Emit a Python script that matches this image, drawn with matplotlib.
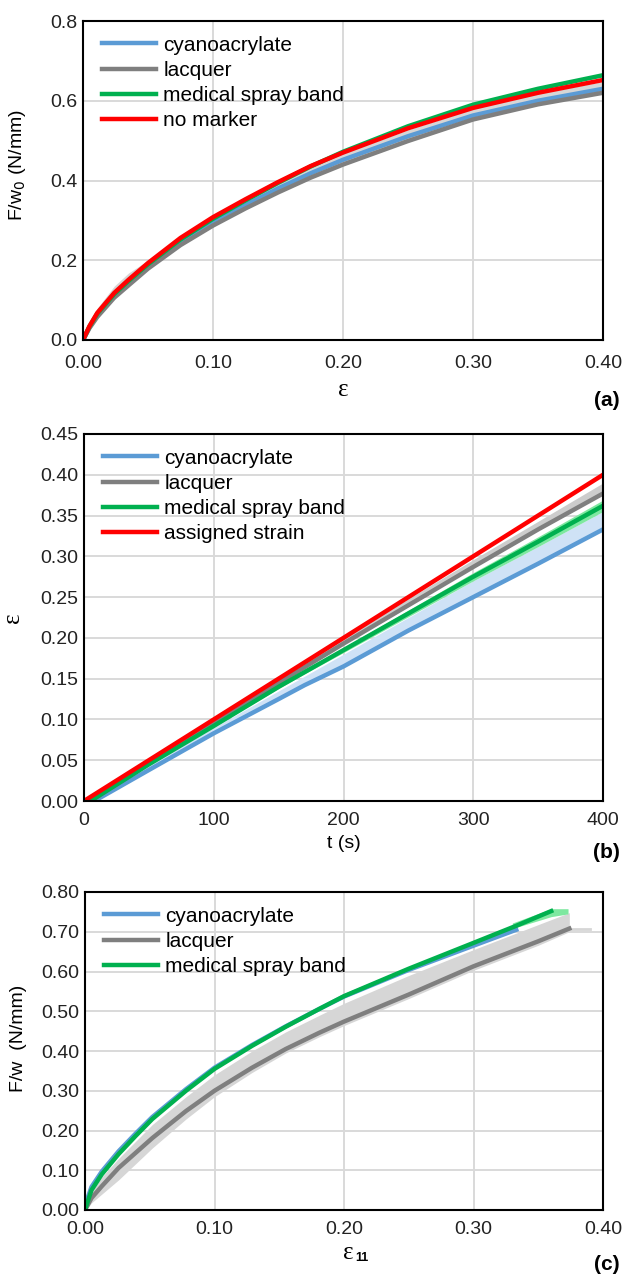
import matplotlib.pyplot as plt

plt.rcParams['font.family'] = ['Liberation Sans', 'DejaVu Sans']

# ---- panel (a): F/w0 versus strain
eps_a = [0.0, 0.005, 0.011, 0.024, 0.035, 0.05, 0.075, 0.10, 0.125, 0.15, 0.175, 0.20,
         0.25, 0.30, 0.35, 0.40]
cyano_a = [0.0, 0.032, 0.062, 0.110, 0.141, 0.184, 0.244, 0.294, 0.338, 0.380, 0.418, 0.452,
           0.511, 0.563, 0.600, 0.630]
lacq_a = [0.0, 0.030, 0.058, 0.106, 0.137, 0.179, 0.238, 0.287, 0.330, 0.370, 0.407, 0.440,
          0.499, 0.553, 0.591, 0.620]
lacq_a_up = [0.0, 0.045, 0.080, 0.135, 0.168, 0.200, 0.258, 0.308, 0.352, 0.394, 0.433, 0.468,
             0.527, 0.580, 0.618, 0.648]
spray_a = [0.0, 0.034, 0.066, 0.115, 0.148, 0.190, 0.252, 0.304, 0.350, 0.394, 0.435, 0.472,
           0.536, 0.590, 0.630, 0.664]
nomark_a = [0.0, 0.035, 0.068, 0.118, 0.151, 0.193, 0.256, 0.308, 0.353, 0.396, 0.436, 0.470,
            0.531, 0.582, 0.620, 0.652]

# ---- panel (b): strain versus time
t_b = [0, 8, 50, 100, 150, 170, 200, 250, 300, 350, 400]
cyano_b = [0.0, 0.0, 0.038, 0.083, 0.125, 0.142, 0.165, 0.209, 0.250, 0.291, 0.333]
cyano_b_up = [0.0, 0.004, 0.045, 0.090, 0.135, 0.153, 0.180, 0.225, 0.270, 0.312, 0.355]
lacq_b = [0.0, 0.003, 0.046, 0.095, 0.145, 0.164, 0.193, 0.240, 0.287, 0.333, 0.377]
lacq_b_up = [0.0, 0.005, 0.048, 0.098, 0.150, 0.170, 0.200, 0.248, 0.296, 0.343, 0.390]
spray_b = [0.0, 0.003, 0.045, 0.092, 0.140, 0.158, 0.185, 0.230, 0.275, 0.318, 0.362]
spray_b_lo = [0.0, 0.003, 0.044, 0.091, 0.138, 0.156, 0.182, 0.226, 0.270, 0.312, 0.355]
spray_b_up = [0.0, 0.003, 0.046, 0.094, 0.142, 0.160, 0.188, 0.234, 0.280, 0.324, 0.369]
assigned_b = [0.0, 0.008, 0.050, 0.100, 0.150, 0.170, 0.200, 0.250, 0.300, 0.350, 0.400]

# ---- panel (c): F/w versus eps11
eps_c = [0.0, 0.002, 0.005, 0.013, 0.026, 0.039, 0.052, 0.078, 0.10, 0.129, 0.155, 0.181,
         0.20, 0.25, 0.30, 0.333, 0.36]
spray_c = [0.0, 0.020, 0.050, 0.090, 0.141, 0.186, 0.229, 0.300, 0.355, 0.413, 0.461, 0.506,
           0.538, 0.607, 0.672, 0.715, 0.752]
eps_c_cy = [0.0, 0.002, 0.005, 0.013, 0.026, 0.039, 0.052, 0.078, 0.10, 0.129, 0.155, 0.181,
            0.20, 0.25, 0.30, 0.333]
cyano_c = [0.0, 0.030, 0.058, 0.097, 0.148, 0.192, 0.234, 0.304, 0.358, 0.415, 0.462, 0.506,
           0.537, 0.604, 0.665, 0.705]
eps_c_lq = [0.0, 0.002, 0.005, 0.013, 0.026, 0.052, 0.078, 0.10, 0.129, 0.155, 0.181, 0.20,
            0.25, 0.30, 0.35, 0.374]
lacq_c = [0.0, 0.012, 0.030, 0.060, 0.106, 0.181, 0.249, 0.300, 0.358, 0.405, 0.446, 0.474,
          0.542, 0.613, 0.676, 0.708]
lacq_c_lo = [0.0, 0.005, 0.018, 0.040, 0.076, 0.156, 0.229, 0.285, 0.346, 0.395, 0.436, 0.464,
             0.532, 0.603, 0.666, 0.700]
lacq_c_up = [0.0, 0.020, 0.045, 0.083, 0.130, 0.215, 0.285, 0.340, 0.400, 0.448, 0.490, 0.520,
             0.590, 0.655, 0.718, 0.748]
eps_c_sp_band = [0.33, 0.36, 0.373]
spray_c_band_lo = [0.708, 0.738, 0.745]
spray_c_band_up = [0.722, 0.758, 0.758]

BLUE = '#5b9bd5'
GRAY = '#7f7f7f'
GREEN = '#00b04f'
RED = '#ff0000'
LW = 3.2

fig = plt.figure(figsize=(6.24, 12.8), dpi=100)
W, H = 624, 1280


def make_ax(l, r, t, b):
    return fig.add_axes([l / W, 1 - b / H, (r - l) / W, (b - t) / H])


def style(ax, xpad=8):
    ax.grid(True, color='#d9d9d9', linewidth=1.4)
    ax.set_axisbelow(True)
    ax.tick_params(length=0, labelsize=14, colors='#222222')
    ax.tick_params(axis='x', pad=xpad)
    ax.tick_params(axis='y', pad=4)
    for s in ax.spines.values():
        s.set_linewidth(1.5)
        s.set_color('black')


def legend(ax):
    ax.legend(loc='upper left', frameon=False, fontsize=15, handlelength=2.6,
              handletextpad=0.35, labelspacing=0.3, borderaxespad=0.3,
              bbox_to_anchor=(0.008, 1.0))


# (a)
ax1 = make_ax(83, 603, 21, 340)
ax1.fill_between(eps_a, lacq_a, lacq_a_up, color='#d6d6d6', lw=0)
ax1.plot(eps_a, cyano_a, color=BLUE, lw=LW, label='cyanoacrylate')
ax1.plot(eps_a, lacq_a, color=GRAY, lw=LW, label='lacquer')
ax1.plot(eps_a, spray_a, color=GREEN, lw=LW, label='medical spray band')
ax1.plot(eps_a, nomark_a, color=RED, lw=LW, label='no marker')
ax1.set_xlim(0, 0.4)
ax1.set_ylim(0, 0.8)
ax1.set_xticks([0, 0.1, 0.2, 0.3, 0.4])
ax1.set_xticklabels(['0.00', '0.10', '0.20', '0.30', '0.40'])
ax1.set_yticks([0, 0.2, 0.4, 0.6, 0.8])
ax1.set_yticklabels(['0.0', '0.2', '0.4', '0.6', '0.8'])
style(ax1, xpad=11)
legend(ax1)
ax1.set_xlabel('ε', fontsize=18, family=['Liberation Serif'], labelpad=5)
ax1.set_ylabel('F/w$_0$ (N/mm)', fontsize=14)
ax1.yaxis.set_label_coords(-0.105, 0.55)
fig.text(620 / W, 1 - 400 / H, '(a)', fontsize=15, fontweight='bold', ha='right', va='center')

# (b)
ax2 = make_ax(84, 603, 434, 801)
ax2.fill_between(t_b, cyano_b, cyano_b_up, color='#cfe2f6', lw=0)
ax2.fill_between(t_b, lacq_b, lacq_b_up, color='#cccccc', lw=0)
ax2.fill_between(t_b, spray_b_lo, spray_b_up, color='#7ee8a0', lw=0)
ax2.plot(t_b, cyano_b, color=BLUE, lw=LW, label='cyanoacrylate')
ax2.plot(t_b, lacq_b, color=GRAY, lw=LW, label='lacquer')
ax2.plot(t_b, spray_b, color=GREEN, lw=LW, label='medical spray band')
ax2.plot(t_b, assigned_b, color=RED, lw=LW, label='assigned strain')
ax2.set_xlim(0, 400)
ax2.set_ylim(0, 0.45)
ax2.set_xticks([0, 100, 200, 300, 400])
ax2.set_yticks([0, 0.05, 0.1, 0.15, 0.2, 0.25, 0.3, 0.35, 0.4, 0.45])
ax2.set_yticklabels(['0.00', '0.05', '0.10', '0.15', '0.20', '0.25', '0.30', '0.35', '0.40', '0.45'])
style(ax2)
legend(ax2)
ax2.set_xlabel('t (s)', fontsize=14, labelpad=4)
ax2.set_ylabel('ε', fontsize=18, family=['Liberation Serif'])
ax2.yaxis.set_label_coords(-0.115, 0.5)
fig.text(620 / W, 1 - 853 / H, '(b)', fontsize=15, fontweight='bold', ha='right', va='center')

# (c)
ax3 = make_ax(85, 603, 892, 1210)
ax3.fill_between(eps_c_lq, lacq_c_lo, lacq_c_up, color='#d6d6d6', lw=0)
ax3.plot([0.374, 0.39], [0.708, 0.708], color='#d6d6d6', lw=2)
ax3.fill_between(eps_c_sp_band, spray_c_band_lo, spray_c_band_up, color='#7ee8a0', lw=0)
ax3.plot(eps_c_cy, cyano_c, color=BLUE, lw=LW, label='cyanoacrylate')
ax3.plot(eps_c_lq, lacq_c, color=GRAY, lw=LW, label='lacquer')
ax3.plot(eps_c, spray_c, color=GREEN, lw=LW, label='medical spray band')
ax3.set_xlim(0, 0.4)
ax3.set_ylim(0, 0.8)
ax3.set_xticks([0, 0.1, 0.2, 0.3, 0.4])
ax3.set_xticklabels(['0.00', '0.10', '0.20', '0.30', '0.40'])
ax3.set_yticks([0, 0.1, 0.2, 0.3, 0.4, 0.5, 0.6, 0.7, 0.8])
ax3.set_yticklabels(['0.00', '0.10', '0.20', '0.30', '0.40', '0.50', '0.60', '0.70', '0.80'])
style(ax3)
legend(ax3)
# x label: epsilon with a small bold "11" subscript
ax3.text(0.508, -0.135, 'ε', transform=ax3.transAxes, fontsize=18,
         family=['Liberation Serif'], ha='center', va='center')
ax3.text(0.522, -0.152, '11', transform=ax3.transAxes, fontsize=9,
         fontweight='bold', ha='left', va='center')
ax3.set_ylabel('F/w  (N/mm)', fontsize=14)
ax3.yaxis.set_label_coords(-0.112, 0.54)
fig.text(620 / W, 1 - 1264 / H, '(c)', fontsize=15, fontweight='bold', ha='right', va='center')

fig.savefig('out.png', dpi=100)
